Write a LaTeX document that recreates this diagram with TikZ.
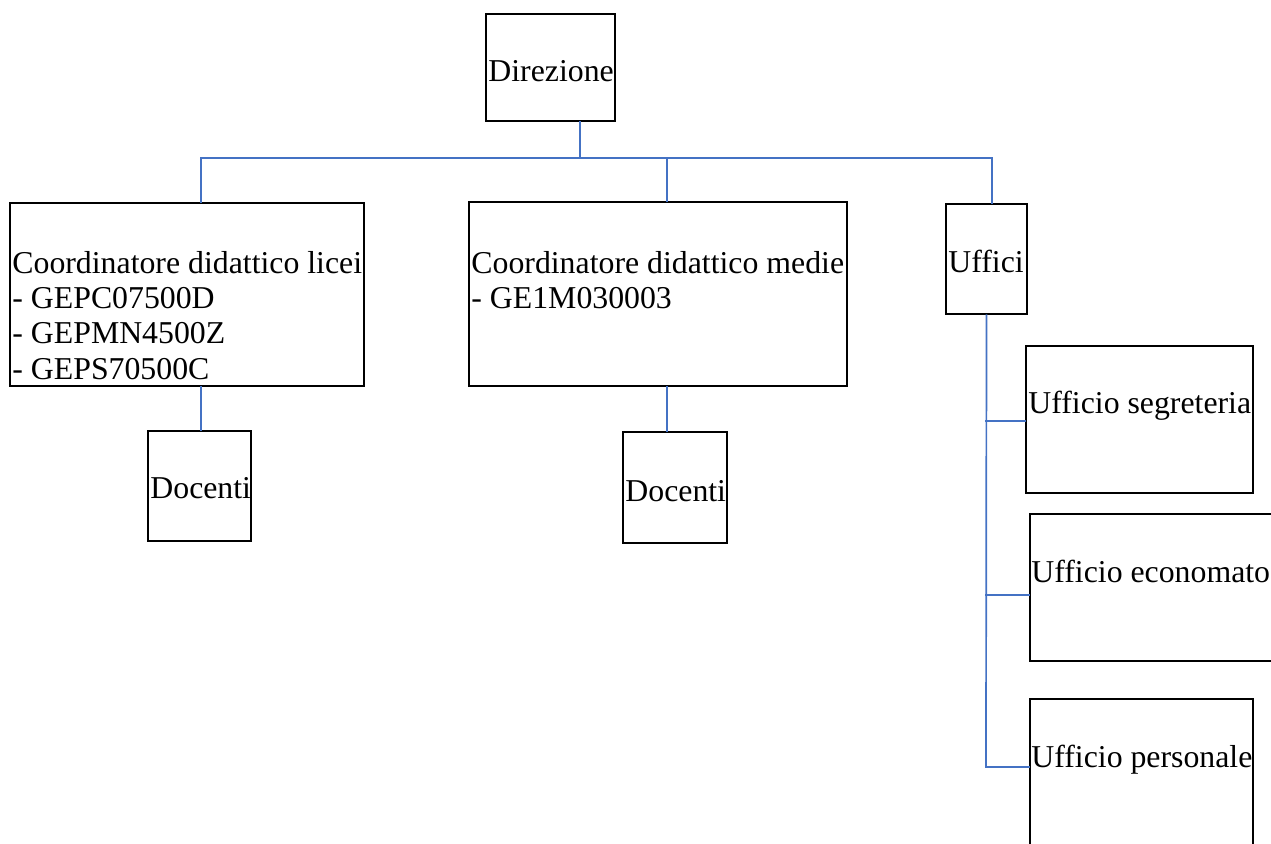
\documentclass[tikz,border=0pt]{standalone}
\usepackage{fontspec}
\setmainfont[Ligatures=CommonOff]{Liberation Serif}
\usepackage{tikz}
\usetikzlibrary{calc,positioning}
\definecolor{linkblue}{RGB}{68,114,196}
\tikzset{
  box/.style={draw=black,line width=1.1pt,inner sep=0pt,rectangle},
  txt/.style={anchor=base west,inner sep=0pt,font=\fontsize{15.9}{17.8}\selectfont},
  link/.style={draw=linkblue,line width=0.85pt,line cap=rect}
}

\begin{document}
\begin{tikzpicture}[x=0.5pt,y=-0.5pt]
  \useasboundingbox (0,0) rectangle (1271,843);
  % boxes
  \node[box,minimum width=64.5pt,minimum height=53.5pt] (dir) at (550.5,67.5) {};
  \node[box,minimum width=177pt,minimum height=91.5pt] (lic) at (187,294.5) {};
  \node[box,minimum width=189pt,minimum height=92pt] (med) at (658,294) {};
  \node[box,minimum width=40.5pt,minimum height=55pt] (uff) at (986.5,259) {};
  \node[box,minimum width=51.5pt,minimum height=55pt] (doc1) at (199.5,486) {};
  \node[box,minimum width=52pt,minimum height=55.5pt] (doc2) at (675,487.5) {};
  \node[box,minimum width=113.5pt,minimum height=73.5pt] (seg) at (1139.5,419.5) {};
  \node[box,minimum width=123pt,minimum height=73.5pt] (eco) at (1153,587.5) {};
  \node[box,minimum width=111.5pt,minimum height=76pt] (per) at (1141.5,775) {};
  % texts
  \node[txt] (dir-t) at (488,81) {Direzione};
  \node[txt] (lic-1) at (12,273) {Coordinatore didattico licei};
  \node[txt] (lic-2) at (12,308) {- GEPC07500D};
  \node[txt] (lic-3) at (12,343.5) {- GEPMN4500Z};
  \node[txt] (lic-4) at (12,379) {- GEPS70500C};
  \node[txt] (med-1) at (471,273) {Coordinatore didattico medie};
  \node[txt] (med-2) at (471,308) {- GE1M030003};
  \node[txt] (uff-t) at (948,272) {Uffici};
  \node[txt] (doc1-t) at (150,498) {Docenti};
  \node[txt] (doc2-t) at (625,501) {Docenti};
  \node[txt] (seg-t) at (1028,413) {Ufficio segreteria};
  \node[txt] (eco-t) at (1031,582) {Ufficio economato};
  \node[txt] (per-t) at (1031,767) {Ufficio personale};
  % connectors
  \coordinate (busL) at (201,158);
  \coordinate (busM) at (580,158);
  \coordinate (busC) at (667,158);
  \coordinate (busR) at (992,158);
  \draw[link] (busM |- dir.south) -- (busM);
  \draw[link] (busL) -- (busR);
  \draw[link] (busL) -- (busL |- lic.north);
  \draw[link] (busC) -- (busC |- med.north);
  \draw[link] (busR) -- (busR |- uff.north);
  \draw[link] (busL |- lic.south) -- (busL |- doc1.north);
  \draw[link] (busC |- med.south) -- (busC |- doc2.north);
  \coordinate (br1) at (986,421);
  \coordinate (br2) at (986,595);
  \coordinate (br3) at (986,767);
  \draw[link] (uff.south) -- (br3);
  \draw[link] (br1) -- (br1 -| seg.west);
  \draw[link] (br2) -- (br2 -| eco.west);
  \draw[link] (br3) -- (br3 -| per.west);
\end{tikzpicture}
\end{document}
